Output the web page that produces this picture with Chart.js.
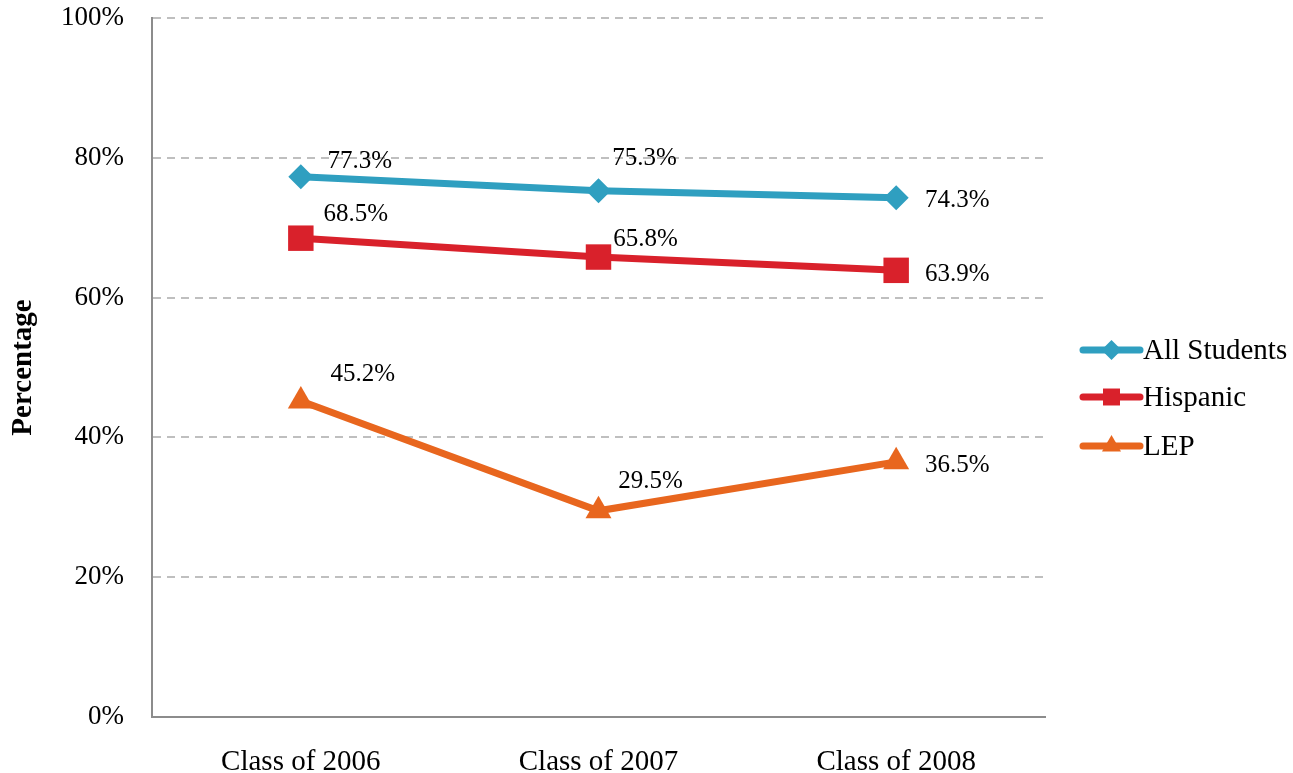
<!DOCTYPE html>
<html><head><meta charset="utf-8">
<script src="https://cdn.jsdelivr.net/npm/chart.js@4/dist/chart.umd.min.js"></script>
<style>html,body{margin:0;padding:0;background:#fff}#wrap{width:1293px;height:773px}</style>
</head><body><div id="wrap"><canvas id="c" width="1293" height="773"></canvas></div>
<script>
const categories = ["Class of 2006", "Class of 2007", "Class of 2008"];
const allStudents = [77.3, 75.3, 74.3];
const hispanic = [68.5, 65.8, 63.9];
const lep = [45.2, 29.5, 36.5];
const seriesNames = ["All Students", "Hispanic", "LEP"];
const yTicks = [0, 20, 40, 60, 80, 100];

const FONT = "'Liberation Serif', 'Times New Roman', serif";
const colors = ["#2F9FC0", "#D9212B", "#E8661E"];
const styles = ["rectRot", "rect", "triangle"];
const radii = [12.5, 18, 15];
// label offsets [dx, dy] from point (style only)
const labelOffsets = [
  [[59,-15],[46,-32],[61,3]],
  [[55,-24],[47,-18],[61,4]],
  [[62,-27],[52,-29],[61,4]]
];

const labelPlugin = {
  id: 'pointLabels',
  afterDatasetsDraw(chart) {
    const ctx = chart.ctx;
    ctx.save();
    ctx.font = "25px " + FONT;
    ctx.fillStyle = "#000";
    ctx.textAlign = "center";
    ctx.textBaseline = "middle";
    chart.data.datasets.forEach((ds, i) => {
      const meta = chart.getDatasetMeta(i);
      meta.data.forEach((pt, j) => {
        const off = labelOffsets[i][j];
        ctx.fillText(ds.data[j].toFixed(1) + "%", pt.x + off[0], pt.y + off[1]);
      });
    });
    ctx.restore();
  }
};

const legendPlugin = {
  id: 'customLegend',
  afterDraw(chart) {
    const ctx = chart.ctx;
    ctx.save();
    const x0 = 1083, x1 = 1140, ys = [350, 397, 446];
    chart.data.datasets.forEach((ds, i) => {
      const y = ys[i];
      ctx.strokeStyle = ds.borderColor;
      ctx.lineWidth = 7;
      ctx.lineCap = "round";
      ctx.beginPath(); ctx.moveTo(x0, y); ctx.lineTo(x1, y); ctx.stroke();
      ctx.fillStyle = ds.borderColor;
      Chart.helpers.drawPoint(ctx, {pointStyle: ds.pointStyle, radius: [10, 12, 11][i], borderWidth: 0, rotation: 0}, (x0 + x1) / 2, y);
      ctx.fillStyle = "#000";
      ctx.font = "29px " + FONT;
      ctx.textAlign = "left";
      ctx.textBaseline = "middle";
      ctx.fillText(ds.label, x1 + 3, y + 1);
    });
    ctx.restore();
  }
};

const series = [allStudents, hispanic, lep];
new Chart(document.getElementById('c'), {
  type: 'line',
  data: {
    labels: categories,
    datasets: series.map((d, i) => ({
      label: seriesNames[i],
      data: d,
      borderColor: colors[i],
      backgroundColor: colors[i],
      borderWidth: 7,
      pointStyle: styles[i],
      pointRadius: radii[i],
      pointHoverRadius: radii[i],
      pointBorderWidth: 0,
      tension: 0,
      fill: false
    }))
  },
  options: {
    responsive: false,
    animation: false,
    events: [],
    layout: { padding: { top: 18, right: 248, left: 0, bottom: 0 } },
    plugins: { legend: { display: false }, tooltip: { enabled: false } },
    scales: {
      x: {
        offset: true,
        grid: { display: false, drawTicks: false },
        border: { display: true, color: "#8C8C8C", width: 2 },
        ticks: { color: "#000", font: { family: FONT, size: 29 }, padding: 28, maxRotation: 0 },
        afterFit(s) { s.height = 56; s.paddingLeft = 0; s.paddingRight = 0; }
      },
      y: {
        min: 0, max: 100,
        afterBuildTicks(s) { s.ticks = yTicks.map(v => ({ value: v })); },
        grid: { color: "#BFBFBF", lineWidth: 2, drawTicks: false },
        border: { display: true, color: "#8C8C8C", width: 2, dash: [8, 6] },
        ticks: { color: "#000", font: { family: FONT, size: 27 }, padding: 28, callback: v => v + "%" },
        title: { display: true, text: "Percentage", color: "#000", font: { family: FONT, size: 29, weight: "bold" }, padding: { top: 6, bottom: 0 } },
        afterFit(s) { s.width = 152; s.paddingTop = 0; s.paddingBottom = 0; }
      }
    }
  },
  plugins: [labelPlugin, legendPlugin]
});
</script>
</body></html>
